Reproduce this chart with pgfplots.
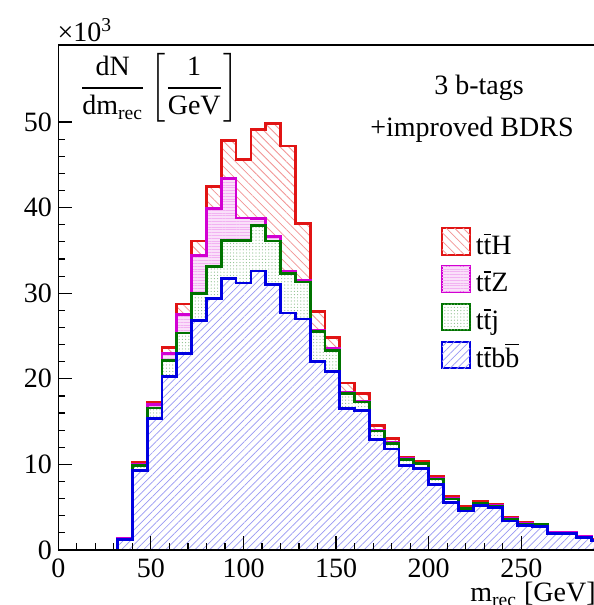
\documentclass[border=0pt]{standalone}
\usepackage{amsmath}
\usepackage{fontspec}
\setmainfont{Liberation Serif}
\usepackage{pgfplots}
\usepackage{pgfplotstable}
\pgfplotsset{compat=1.18}
\usetikzlibrary{patterns.meta}
\definecolor{hred}{RGB}{225,20,20}
\definecolor{hmag}{RGB}{210,0,210}
\definecolor{hgreen}{RGB}{0,115,0}
\definecolor{hblue}{RGB}{0,0,225}
\tikzset{
 ttHst/.style={draw=hred, line width=1.4bp, fill=white,
   postaction={pattern={Lines[angle=-45,distance=3bp,line width=0.4bp]}, pattern color=hred!45}},
 ttZst/.style={draw=hmag, line width=1.4bp, fill=hmag!12,
   postaction={pattern={Lines[angle=0,distance=1.4bp,line width=0.35bp]}, pattern color=hmag!30}},
 ttjst/.style={draw=hgreen, line width=1.4bp, fill=white,
   postaction={pattern={Dots[distance=1.6bp,radius=0.3bp]}, pattern color=hgreen!45}},
 ttbbst/.style={draw=hblue, line width=1.4bp, fill=white,
   postaction={pattern={Lines[angle=45,distance=2.6bp,line width=0.35bp]}, pattern color=hblue!40}},
}
\pgfplotstableread{
x blue green mag red
0 0 0 0 0
8 0 0 0 0
16 0 0 0 0
24 0 0 0 0
32 1.25 1.28 1.30 1.35
40 9.26 9.90 10.00 10.20
48 15.40 16.60 16.96 17.30
56 20.30 22.15 22.95 23.70
64 22.96 25.35 27.50 28.75
72 26.85 30.00 34.40 36.10
80 29.40 33.10 39.90 42.50
88 31.70 36.20 43.40 47.80
96 31.20 36.20 38.80 45.60
104 32.60 37.90 38.70 49.10
112 31.00 36.10 36.60 49.80
120 27.70 32.30 32.60 47.20
128 27.00 31.30 31.50 38.10
136 22.00 25.50 25.70 27.90
144 20.90 23.30 23.60 24.80
152 16.50 18.30 18.40 19.50
160 16.30 17.30 17.40 18.30
168 12.90 13.90 14.00 14.50
176 11.80 12.45 12.55 13.00
184 9.90 10.60 10.65 10.80
192 9.50 10.10 10.15 10.40
200 7.67 8.29 8.35 8.56
208 5.52 5.95 6.00 6.23
216 4.55 4.82 4.86 5.10
224 5.17 5.41 5.45 5.64
232 4.94 5.14 5.18 5.37
240 3.39 3.62 3.65 3.77
248 2.84 3.04 3.07 3.19
256 2.72 2.96 2.98 3.04
264 1.91 1.98 2.00 2.10
272 1.91 1.98 2.00 2.10
280 1.44 1.52 1.54 1.63
288 1.09 1.15 1.16 1.22
296 1.00 1.05 1.06 1.10
300 1.00 1.05 1.06 1.10
}\histdata
\begin{document}
\fontsize{14bp}{16.8bp}\selectfont
\begin{tikzpicture}
\begin{axis}[
 scale only axis, width=277.8bp, height=252.5bp, at={(0,0)}, anchor=south west,
 xmin=0, xmax=300, ymin=0, ymax=59,
 xtick={0,50,...,250}, minor x tick num=4,
 ytick={0,10,...,50}, minor y tick num=4,
 tick align=inside, xtick pos=left, ytick pos=left,
 major tick length=7bp, minor tick length=3.5bp,
 axis line style={line width=0.8bp},
 every tick/.append style={black, line width=0.6bp},
 tick label style={font=\rmfamily\fontsize{14bp}{16.8bp}\selectfont, inner sep=0pt},
 xticklabel={\text{\rmfamily\pgfmathprintnumber[assume math mode=true]{\tick}}},
 yticklabel={\text{\rmfamily\pgfmathprintnumber[assume math mode=true]{\tick}}},
 xticklabel shift=4bp, yticklabel shift=3bp,
 /pgf/number format/assume math mode=true,
 axis on top,
]
\addplot[ttHst, const plot mark left] table[x=x,y=red]{\histdata} \closedcycle;
\addplot[ttZst, const plot mark left] table[x=x,y=mag]{\histdata} \closedcycle;
\addplot[ttjst, const plot mark left] table[x=x,y=green]{\histdata} \closedcycle;
\addplot[ttbbst, const plot mark left] table[x=x,y=blue]{\histdata} \closedcycle;
\end{axis}
% multiplier
\node[anchor=base west, inner sep=0pt] at (-0.5bp,254bp) {×10\textsuperscript{3}};
% y label
\node[inner sep=0pt] at (50.4bp,231bp) {$\dfrac{\text{dN}}{\text{dm}_{\text{rec}}}\left[\dfrac{\text{1}}{\text{GeV}}\right]$};
% texts
\node[anchor=base, inner sep=0pt] at (210.35bp,227.5bp) {3 b-tags};
\node[anchor=base, inner sep=0pt] at (206.85bp,206.5bp) {+improved BDRS};
% legend
\foreach \st/\lab/\yc in {ttHst/{t$\overline{\text{t}}$H}/154.25, ttZst/{t$\overline{\text{t}}$Z}/135.5, ttjst/{t$\overline{\text{t}}$j}/116.5, ttbbst/{t$\overline{\text{t}}$b$\overline{\text{b}}$}/97.5}{
  \path[\st, line width=1.1bp] (191.85bp,\yc bp-6.6bp) rectangle (205.85bp,\yc bp+6.6bp);
  \node[anchor=base west, inner sep=0pt] at (208.6bp,\yc bp-6.4bp) {\lab};
}
% x label
\node[anchor=base west, inner sep=0pt] at (205.85bp,-25.85bp) {$\text{m}_{\text{rec}}$ [GeV]};
\pgfresetboundingbox
\path[use as bounding box] (-29.15bp,-27.5bp) rectangle (267.85bp,275bp);
\end{tikzpicture}
\end{document}
